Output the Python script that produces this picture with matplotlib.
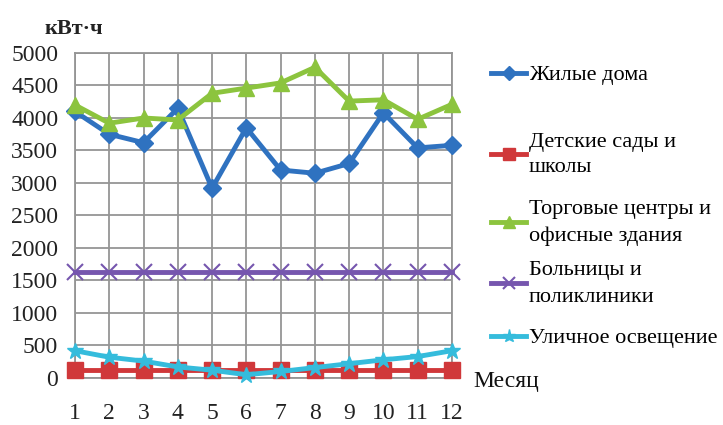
import numpy as np
import matplotlib
matplotlib.use('Agg')
import matplotlib.pyplot as plt

plt.rcParams['font.family'] = ['Liberation Serif', 'DejaVu Serif']

months = [1, 2, 3, 4, 5, 6, 7, 8, 9, 10, 11, 12]
zhilye = [4100, 3750, 3620, 4150, 2920, 3850, 3200, 3150, 3300, 4080, 3540, 3580]
sady = [130, 130, 130, 130, 130, 130, 130, 130, 130, 130, 130, 130]
torg = [4200, 3920, 4000, 3970, 4380, 4460, 4540, 4780, 4260, 4280, 3980, 4210]
boln = [1630, 1630, 1630, 1630, 1630, 1630, 1630, 1630, 1630, 1630, 1630, 1630]
ulich = [420, 320, 260, 170, 120, 50, 100, 160, 220, 280, 330, 420]

labels = ['Жилые дома', 'Детские сады и\nшколы', 'Торговые центры и\nофисные здания',
          'Больницы и\nполиклиники', 'Уличное освещение']

fig = plt.figure(figsize=(7.23, 4.25), dpi=100)
ax = fig.add_axes([0.1037, 0.1106, 0.5214, 0.7647])

lw = 3.5
lines = []
lines += ax.plot(months, zhilye, color='#2f72c0', lw=lw, marker='D', ms=9, clip_on=False, zorder=5)
lines += ax.plot(months, sady, color='#d0383a', lw=lw, marker='s', ms=11, clip_on=False, zorder=4)
lines += ax.plot(months, torg, color='#8cc43e', lw=lw, marker='^', ms=11, clip_on=False, zorder=5)
lines += ax.plot(months, boln, color='#7656ae', lw=lw, marker='x', ms=11, mew=1.5, clip_on=False, zorder=4)
lines += ax.plot(months, ulich, color='#35bcdc', lw=lw, marker='*', ms=12, clip_on=False, zorder=6)

ax.set_xlim(1, 12)
ax.set_ylim(0, 5000)
ax.set_xticks(months)
ax.set_yticks(np.arange(0, 5001, 500))
ax.grid(True, color='#959595', lw=1.3)
for s in ax.spines.values():
    s.set_color('#959595')
    s.set_linewidth(1.3)
ax.tick_params(length=0, labelsize=17, colors='#222222')
ax.tick_params(axis='x', pad=18)
ax.tick_params(axis='y', pad=12)

fig.text(0.062, 0.92, 'кВт·ч', fontsize=16, fontweight='bold', color='#222222')
fig.text(0.655, 0.09, 'Месяц', fontsize=17, color='#111111')

# legend entries placed one by one, spacing as in the original
leg_y = [75, 155, 223, 284, 338]
for ln, lab, yp in zip(lines, labels, leg_y):
    lg = fig.legend([ln], [lab], loc='center left', bbox_to_anchor=(0.679, 1 - yp / 425),
                    frameon=False, fontsize=16, handlelength=1.6, handletextpad=0.1,
                    borderaxespad=0, borderpad=0, markerscale=0.8)
    for t in lg.get_texts():
        t.set_linespacing(1.5)

fig.savefig('out.png', dpi=100)
